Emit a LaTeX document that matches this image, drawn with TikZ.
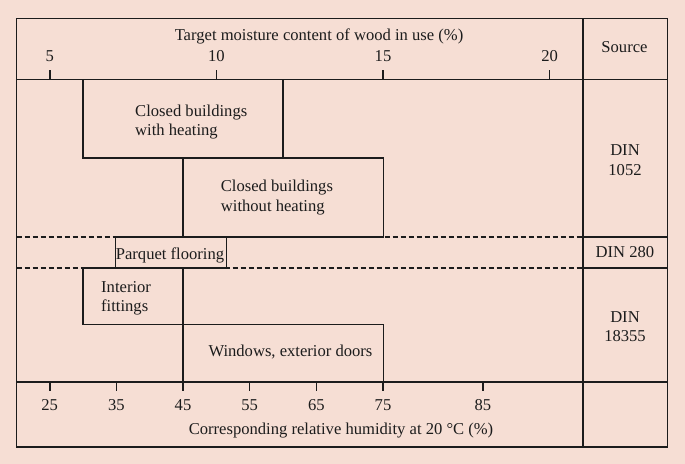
\documentclass[tikz,border=0pt]{standalone}
\usepackage{fontspec}
\setmainfont{Liberation Serif}
\definecolor{bgpink}{RGB}{246,222,212}
\definecolor{inkline}{RGB}{28,28,28}
\tikzset{
    frame/.style={draw=inkline, line width=1.6bp},
    dashsep/.style={draw=inkline, line width=1.6bp, dash pattern=on 5bp off 3bp},
    usebox/.style={draw=inkline, line width=1.6bp},
    txt/.style={font=\fontsize{16.6bp}{19.5bp}\selectfont, text=inkline, inner sep=0pt, anchor=base},
}
\begin{document}
\begin{tikzpicture}[x=1bp,y=-1bp]
        \fill[bgpink] (0,0) rectangle (685,464);
        \useasboundingbox (0,0) rectangle (685,464);
        % dashed separators
        \draw[dashsep] (16.5,237) -- (583,237);
        \draw[dashsep] (16.5,268.3) -- (583,268.3);
        % ranges of use
        \draw[usebox] (83,79.5) rectangle (283,158.3);
        \draw[usebox] (183,158.3) rectangle (383.3,237);
        \draw[usebox] (115.5,237) rectangle (226.5,268.3);
        \draw[usebox] (83,268.3) rectangle (183,324.3);
        \draw[usebox] (183,324.3) rectangle (383.3,381.7);
        % frame
        \draw[frame] (16.5,18.5) rectangle (667.3,447);
        \draw[frame] (583,18.5) -- (583,447);
        \draw[frame] (16.5,79.5) -- (667.3,79.5);
        \draw[frame] (16.5,381.7) -- (667.3,381.7);
        \draw[frame] (583,237) -- (667.3,237);
        \draw[frame] (583,268.3) -- (667.3,268.3);
        % axes
        \foreach \m in {5,10,15,20}
            \draw[frame] ({49.7+33.33*(\m-5)},79.5) -- ++(0,-9.5) node[txt] (top\m) at ({49.7+33.33*(\m-5)},61.5) {\m};
        \foreach \h/\m in {25/5,35/7,45/9,55/11,65/13,75/15,85/18}
            \draw[frame] ({49.7+33.33*(\m-5)},381.7) -- ++(0,9.5) node[txt] (bot\h) at ({49.7+33.33*(\m-5)},410) {\h};
        \node[txt] (toptitle) at (319,41) {Target moisture content of wood in use (\%)};
        \node[txt] (bottitle) at (341,434) {Corresponding relative humidity at 20 °C (\%)};
        % labels (base = last line)
        \node[txt, anchor=base west, align=left] (heated) at (135,136) {Closed buildings\\with heating};
        \node[txt, anchor=base west, align=left] (unheated) at (220.7,211.5) {Closed buildings\\without heating};
        \node[txt] (parquet) at (170,260) {Parquet flooring};
        \node[txt, anchor=base west, align=left] (fittings) at (101,312) {Interior\\fittings};
        \node[txt, anchor=base west] (windows) at (208.3,356) {Windows, exterior doors};
        % sources
        \node[txt] (source) at (624.5,52.5) {Source};
        \node[txt, align=center] (din1052) at (625,175.5) {DIN\\1052};
        \node[txt] (din280) at (625,258) {DIN 280};
        \node[txt, align=center] (din18355) at (625,342) {DIN\\18355};
\end{tikzpicture}
\end{document}
